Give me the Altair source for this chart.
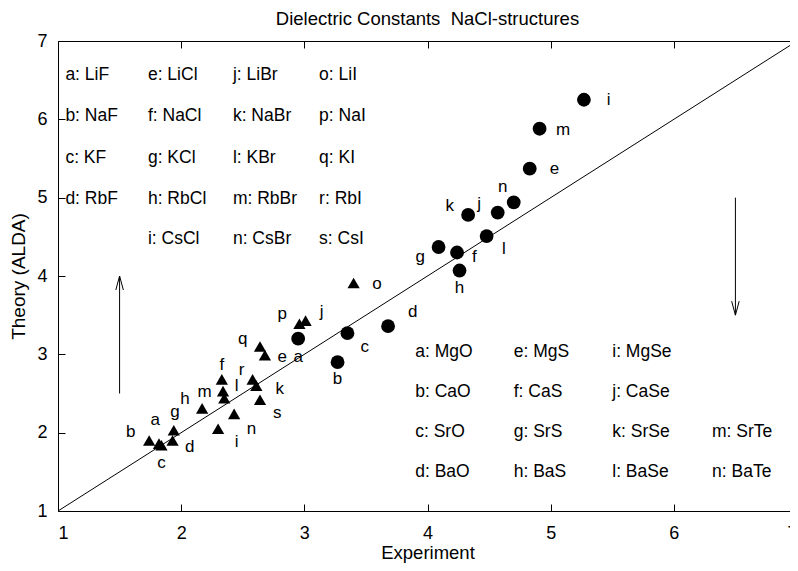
import altair as alt
import pandas as pd

FONT = "Liberation Sans"

# ---------------- data ----------------
title_text = ["Dielectric Constants\u00a0 NaCl-structures"]

# II-VI (NaCl structure) compounds -> circles
c_letters = list("abcdefghijklmn")
c_names = ["MgO", "CaO", "SrO", "BaO", "MgS", "CaS", "SrS", "BaS",
           "MgSe", "CaSe", "SrSe", "BaSe", "SrTe", "BaTe"]
c_expt = [2.95, 3.27, 3.35, 3.68, 4.83, 4.24, 4.09, 4.26,
          5.27, 4.57, 4.33, 4.48, 4.91, 4.70]
c_theory = [3.20, 2.90, 3.27, 3.36, 5.37, 4.30, 4.37, 4.07,
            6.25, 4.81, 4.78, 4.51, 5.88, 4.94]
c_lab_x = [2.95, 3.27, 3.49, 3.88, 5.03, 4.38, 3.94, 4.26,
           5.47, 4.42, 4.18, 4.62, 5.10, 4.61]
c_lab_y = [2.97, 2.69, 3.10, 3.54, 5.36, 4.24, 4.24, 3.85,
           6.25, 4.92, 4.90, 4.35, 5.87, 5.13]
c_row = [0, 1, 2, 3, 0, 1, 2, 3, 0, 1, 2, 3, 2, 3]
c_col = [0, 0, 0, 0, 1, 1, 1, 1, 2, 2, 2, 2, 3, 3]

# I-VII (alkali halides) -> triangles
t_letters = list("abcdefghijklmnopqrs")
t_names = ["LiF", "NaF", "KF", "RbF", "LiCl", "NaCl", "KCl", "RbCl", "CsCl",
           "LiBr", "NaBr", "KBr", "RbBr", "CsBr", "LiI", "NaI", "KI", "RbI", "CsI"]
t_expt = [1.82, 1.74, 1.84, 1.93, 2.68, 2.33, 1.94, 2.17, 2.30,
          3.01, 2.61, 2.35, 2.34, 2.43, 3.40, 2.96, 2.64, 2.58, 2.64]
t_theory = [1.86, 1.90, 1.84, 1.90, 2.99, 2.68, 2.03, 2.31, 2.05,
            3.43, 2.60, 2.44, 2.53, 2.24, 3.91, 3.39, 3.10, 2.68, 2.42]
t_lab_x = [1.79, 1.59, 1.84, 2.07, 2.82, 2.33, 1.95, 2.03, 2.45,
           3.14, 2.80, 2.45, 2.19, 2.57, 3.59, 2.82, 2.50, 2.49, 2.78]
t_lab_y = [2.16, 2.01, 1.61, 1.82, 2.96, 2.86, 2.27, 2.43, 1.88,
           3.54, 2.56, 2.59, 2.52, 2.05, 3.90, 3.52, 3.19, 2.80, 2.25]
t_row = [0, 1, 2, 3, 0, 1, 2, 3, 4, 0, 1, 2, 3, 4, 0, 1, 2, 3, 4]
t_col = [0, 0, 0, 0, 1, 1, 1, 1, 1, 2, 2, 2, 2, 2, 3, 3, 3, 3, 3]

# legend key layout (data units)
tl_col_x = [1.06, 1.73, 2.42, 3.12]
tl_row_y = [6.57, 6.04, 5.51, 4.98, 4.47]
br_col_x = [3.90, 4.70, 5.50, 6.31]
br_row_y = [3.03, 2.52, 2.01, 1.50]

ticks = [1, 2, 3, 4, 5, 6, 7]
diag = [1, 7]

arrow_x = [1.5, 6.5]
arrow_from = [2.5, 5.0]
arrow_to = [4.0, 3.5]

# ---------------- tables ----------------
circ = pd.DataFrame({"x": c_expt, "y": c_theory, "lx": c_lab_x, "ly": c_lab_y,
                     "letter": c_letters})
tri = pd.DataFrame({"x": t_expt, "y": t_theory, "lx": t_lab_x, "ly": t_lab_y,
                    "letter": t_letters})
labels = pd.concat([circ[["lx", "ly", "letter"]], tri[["lx", "ly", "letter"]]])
key = pd.DataFrame({
    "kx": [tl_col_x[c] for c in t_col] + [br_col_x[c] for c in c_col],
    "ky": [tl_row_y[r] for r in t_row] + [br_row_y[r] for r in c_row],
    "txt": [f"{l}: {n}" for l, n in zip(t_letters, t_names)]
           + [f"{l}: {n}" for l, n in zip(c_letters, c_names)],
})
diag_df = pd.DataFrame({"x": diag, "y": diag})
arr = pd.DataFrame({"x": arrow_x, "y0": arrow_from, "y1": arrow_to})
arr["ang"] = [0 if b > a else 180 for a, b in zip(arrow_from, arrow_to)]
title_df = pd.DataFrame({"t": title_text})

W, H = 739, 470
sx = alt.Scale(domain=[1, 7], nice=False, zero=False)
sy = alt.Scale(domain=[1, 7], nice=False, zero=False)

tick_axis = dict(values=ticks, labels=False, domain=False, grid=False, ticks=True,
                 tickSize=7, tickColor="black", tickWidth=1, title=None)

# diagonal + labelled axes
base = alt.Chart(diag_df).mark_line(color="black", strokeWidth=1).encode(
    x=alt.X("x:Q", scale=sx, axis=alt.Axis(
        values=ticks, format="d", title="Experiment", ticks=False, tickSize=0,
        domain=False, grid=False, labelPadding=13, labelFontSize=18, labelFont=FONT,
        labelColor="black", titleFont=FONT, titleFontSize=18.5, titleFontWeight="normal",
        titleColor="black", titleY=41, titleBaseline="middle")),
    y=alt.Y("y:Q", scale=sy, axis=alt.Axis(
        values=ticks, format="d", title="Theory (ALDA)", ticks=False, tickSize=0,
        domain=False, grid=False, labelPadding=11, labelFontSize=18, labelFont=FONT,
        labelColor="black", titleFont=FONT, titleFontSize=19, titleFontWeight="normal",
        titleColor="black", titleX=-40, titleBaseline="middle")),
)

circles = alt.Chart(circ).mark_point(shape="circle", filled=True, size=190,
                                     color="black", opacity=1).encode(
    x=alt.X("x:Q", scale=sx, axis=alt.Axis(orient="top", offset=-H, **tick_axis)),
    y=alt.Y("y:Q", scale=sy, axis=alt.Axis(orient="right", offset=-W, **tick_axis)),
)

triangles = alt.Chart(tri).mark_point(shape="triangle-up", filled=True, size=150,
                                      color="black", opacity=1).encode(
    x=alt.X("x:Q", scale=sx, axis=alt.Axis(orient="bottom", offset=-H, **tick_axis)),
    y=alt.Y("y:Q", scale=sy, axis=alt.Axis(orient="left", offset=-W, **tick_axis)),
)

point_labels = alt.Chart(labels).mark_text(font=FONT, fontSize=17, color="black",
                                           align="center", baseline="middle").encode(
    x=alt.X("lx:Q", scale=sx, axis=None),
    y=alt.Y("ly:Q", scale=sy, axis=None),
    text="letter:N",
)

key_text = alt.Chart(key).mark_text(font=FONT, fontSize=17.5, color="black",
                                    align="left", baseline="middle").encode(
    x=alt.X("kx:Q", scale=sx, axis=None),
    y=alt.Y("ky:Q", scale=sy, axis=None),
    text="txt:N",
)

shafts = alt.Chart(arr).mark_rule(color="black", strokeWidth=1).encode(
    x=alt.X("x:Q", scale=sx, axis=None),
    y=alt.Y("y0:Q", scale=sy, axis=None),
    y2="y1:Q",
)

heads = alt.Chart(arr).mark_point(shape="M-0.27,1L0,0L0.27,1", filled=False, size=784,
                                  color="black", strokeWidth=1, opacity=1).encode(
    x=alt.X("x:Q", scale=sx, axis=None),
    y=alt.Y("y1:Q", scale=sy, axis=None),
    angle=alt.Angle("ang:Q", scale=None),
)

title = alt.Chart(title_df).mark_text(font=FONT, fontSize=18.5, color="black",
                                      align="center", baseline="middle").encode(
    x=alt.value(W / 2),
    y=alt.value(-22.5),
    text="t:N",
)

chart = alt.layer(base, circles, triangles, point_labels, key_text, shafts, heads,
                  title).resolve_axis(
    x="independent", y="independent"
).properties(
    width=W, height=H,
    background="white",
    autosize=alt.AutoSizeParams(type="none"),
    padding={"left": 50, "top": 33, "right": -7, "bottom": 52},
).configure_view(stroke="black", strokeWidth=1)

chart.save("out.html", embed_options={"renderer": "svg", "actions": False})
